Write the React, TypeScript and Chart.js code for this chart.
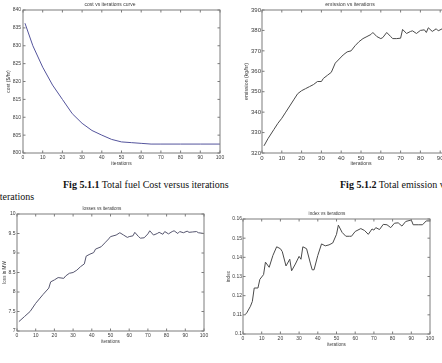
import React, { useEffect, useRef } from "react";
import { Chart, registerables } from "chart.js";

Chart.register(...registerables);

// ---------- data ----------
const costIter = [1, 5, 10, 15, 20, 25, 30, 35, 40, 45, 50, 55, 60, 65, 70, 80, 90, 100];
const costValues = [836.3, 830.0, 824.0, 819.0, 815.0, 811.0, 808.3, 806.3, 805.0, 803.8, 803.1, 802.9, 802.7, 802.5, 802.5, 802.5, 802.5, 802.5];

const emissionIter = [1, 3, 6, 8, 10, 12, 14, 16, 18, 20, 22, 24, 26, 28, 30, 31, 33, 35, 37, 39, 41, 43, 45, 47, 49, 51, 53, 55, 56, 58, 60, 61, 63, 65, 66, 68, 70, 71, 73, 75, 76, 78, 80, 82, 83, 84, 86, 88, 89, 91, 93, 95, 97, 100];
const emissionValues = [323.5, 327, 331.5, 334.5, 337, 340, 343, 346, 349, 350.5, 351.5, 352.5, 353.5, 355, 355, 356.5, 358, 359.5, 364, 366, 368, 369.5, 370, 372.5, 374.5, 376, 377, 378, 379, 377, 376, 376.5, 379, 377, 376, 376, 376.2, 380.5, 378.5, 379.5, 379.8, 378.5, 380, 380.3, 379, 381.3, 379.5, 380.8, 379.8, 380.8, 379.5, 380.2, 379.8, 380];

const lossIter = [1, 4, 7, 10, 14, 17, 18, 20, 22, 25, 26, 28, 30, 32, 34, 36, 37, 39, 41, 42, 45, 47, 49, 50, 53, 55, 57, 59, 60, 62, 63, 65, 66, 68, 70, 71, 73, 75, 76, 78, 79, 81, 83, 84, 86, 87, 89, 91, 92, 94, 96, 97, 100];
const lossValues = [7.24, 7.37, 7.5, 7.71, 7.94, 8.1, 8.26, 8.31, 8.37, 8.35, 8.41, 8.48, 8.5, 8.56, 8.65, 8.72, 8.92, 8.97, 9.01, 9.1, 9.16, 9.26, 9.36, 9.42, 9.46, 9.52, 9.46, 9.4, 9.42, 9.44, 9.53, 9.42, 9.38, 9.39, 9.49, 9.57, 9.46, 9.5, 9.53, 9.48, 9.55, 9.49, 9.55, 9.57, 9.5, 9.55, 9.52, 9.56, 9.53, 9.54, 9.55, 9.52, 9.5];

const indexIter = [1, 2, 4, 5, 6, 8, 9, 11, 12, 14, 16, 18, 20, 21, 23, 25, 26, 28, 30, 31, 32, 34, 36, 37, 38, 40, 42, 44, 46, 48, 50, 51, 53, 55, 57, 58, 60, 63, 65, 67, 69, 70, 71, 73, 75, 77, 79, 81, 83, 85, 87, 90, 91, 94, 96, 98, 100];
const indexValues = [0.110, 0.111, 0.1145, 0.117, 0.124, 0.124, 0.1285, 0.131, 0.1375, 0.1348, 0.141, 0.1455, 0.1445, 0.143, 0.1355, 0.139, 0.133, 0.1365, 0.1405, 0.139, 0.1455, 0.1445, 0.137, 0.1335, 0.1335, 0.141, 0.147, 0.146, 0.1465, 0.1475, 0.152, 0.1568, 0.153, 0.151, 0.151, 0.151, 0.1535, 0.155, 0.154, 0.152, 0.1548, 0.1542, 0.1555, 0.1545, 0.1572, 0.157, 0.1555, 0.1578, 0.158, 0.1563, 0.1587, 0.1595, 0.157, 0.157, 0.157, 0.159, 0.159];

const xTicks = { min: 0, max: 100, step: 10 };
const costTicks = { min: 800, max: 840, step: 5 };
const emissionTicks = { min: 320, max: 390, step: 10 };
const lossTicks = { min: 7, max: 10, step: 0.5 };
const indexTicks = { min: 0.1, max: 0.16, step: 0.01 };

const titles = ["cost vs iterations curve", "emission vs iterations", "losses vs iterations", "index vs iterations"];
const yTitles = ["cost ($/hr)", "emission (kg/hr)", "loss in MW", "index"];
const xTitle = "iterations";

// ---------- drawing ----------
const FONT = '"Liberation Sans", Arial, sans-serif';

const boxTicks = {
  id: "boxTicks",
  afterDatasetsDraw(chart: any) {
    const { ctx, chartArea: a, scales } = chart;
    ctx.save();
    ctx.strokeStyle = "#7c7c7c";
    ctx.lineWidth = 1;
    ctx.strokeRect(a.left, a.top, a.right - a.left, a.bottom - a.top);
    const L = 2.5;
    ctx.beginPath();
    scales.x.ticks.forEach((t: any) => {
      const px = scales.x.getPixelForValue(t.value);
      ctx.moveTo(px, a.bottom);
      ctx.lineTo(px, a.bottom - L);
      ctx.moveTo(px, a.top);
      ctx.lineTo(px, a.top + L);
    });
    scales.y.ticks.forEach((t: any) => {
      const py = scales.y.getPixelForValue(t.value);
      ctx.moveTo(a.left, py);
      ctx.lineTo(a.left + L, py);
      ctx.moveTo(a.right, py);
      ctx.lineTo(a.right - L, py);
    });
    ctx.stroke();
    ctx.restore();
  },
};

type Geo = {
  left: number; top: number; width: number; height: number;
  pl: number; pt: number; pr: number; pb: number;
  titleY: number; xTitleY: number; yTitleX: number;
  tickSize: number; titleSize: number; axisSize: number;
  xTickPad: number; yTickPad: number;
};

const geos: Geo[] = [
  { left: 0, top: 0, width: 232, height: 172, pl: 23, pt: 10, pr: 220, pb: 153, titleY: 4.5, xTitleY: 164, yTitleX: 9, tickSize: 5, titleSize: 5, axisSize: 5, xTickPad: 2, yTickPad: 2 },
  { left: 240, top: 0, width: 230, height: 172, pl: 262, pt: 10, pr: 460, pb: 153, titleY: 4.5, xTitleY: 164, yTitleX: 247, tickSize: 6, titleSize: 5.2, axisSize: 5.2, xTickPad: 2, yTickPad: 1 },
  { left: 0, top: 203, width: 232, height: 146, pl: 17, pt: 214, pr: 204, pb: 331, titleY: 209, xTitleY: 342, yTitleX: 5, tickSize: 5, titleSize: 4.6, axisSize: 4.6, xTickPad: 2, yTickPad: 1.5 },
  { left: 224, top: 208, width: 218, height: 144, pl: 243, pt: 219, pr: 430, pb: 334, titleY: 214, xTitleY: 345, yTitleX: 229, tickSize: 5, titleSize: 4.6, axisSize: 4.6, xTickPad: 2, yTickPad: 1 },
];

function makeConfig(g: Geo, xs: number[], ys: number[], yt: { min: number; max: number; step: number }, title: string, yTitle: string, color: string): any {
  const tl = g.titleSize * 1.2;
  const al = g.axisSize * 1.2;
  const titleTop = g.titleY - g.top - tl / 2;
  const txt = "#3a3a3a";
  return {
    type: "line",
    data: {
      datasets: [{
        data: xs.map((x, i) => ({ x, y: ys[i] })),
        borderColor: color,
        borderWidth: 1,
        pointRadius: 0,
        tension: 0,
        fill: false,
      }],
    },
    options: {
      animation: false,
      responsive: false,
      maintainAspectRatio: false,
      layout: { padding: { left: 0, top: 0, bottom: 0, right: g.left + g.width - g.pr } },
      plugins: {
        legend: { display: false },
        tooltip: { enabled: false },
        title: {
          display: true,
          text: title,
          color: txt,
          font: { family: FONT, size: g.titleSize, weight: "normal", lineHeight: 1.2 },
          padding: { top: titleTop, bottom: g.pt - g.top - titleTop - tl },
        },
      },
      scales: {
        x: {
          type: "linear",
          min: xTicks.min,
          max: xTicks.max,
          border: { display: false },
          grid: { display: false, drawTicks: false, tickLength: 0 },
          ticks: {
            stepSize: xTicks.step, autoSkip: false, maxRotation: 0, padding: g.xTickPad, color: txt,
            font: { family: FONT, size: g.tickSize },
            callback: (v: number) => String(Math.round(v * 100) / 100),
          },
          title: {
            display: true, text: xTitle, color: txt,
            font: { family: FONT, size: g.axisSize, lineHeight: 1.2 },
            padding: { top: 0, bottom: g.top + g.height - g.xTitleY - al / 2 },
          },
          afterFit: (s: any) => { s.height = g.top + g.height - g.pb; },
        },
        y: {
          type: "linear",
          min: yt.min,
          max: yt.max,
          border: { display: false },
          grid: { display: false, drawTicks: false, tickLength: 0 },
          ticks: {
            stepSize: yt.step, autoSkip: false, padding: g.yTickPad, color: txt,
            font: { family: FONT, size: g.tickSize },
            callback: (v: number) => String(Math.round(v * 1000) / 1000),
          },
          title: {
            display: true, text: yTitle, color: txt,
            font: { family: FONT, size: g.axisSize, lineHeight: 1.2 },
            padding: { top: g.yTitleX - g.left - al / 2, bottom: 0 },
          },
          afterFit: (s: any) => { s.width = g.pl - g.left; },
        },
      },
    },
    plugins: [boxTicks],
  };
}

export default function App() {
  const r0 = useRef<HTMLCanvasElement>(null);
  const r1 = useRef<HTMLCanvasElement>(null);
  const r2 = useRef<HTMLCanvasElement>(null);
  const r3 = useRef<HTMLCanvasElement>(null);
  const refs = [r0, r1, r2, r3];

  useEffect(() => {
    const charts = [
      new Chart(r0.current!, makeConfig(geos[0], costIter, costValues, costTicks, titles[0], yTitles[0], "#54549c")),
      new Chart(r1.current!, makeConfig(geos[1], emissionIter, emissionValues, emissionTicks, titles[1], yTitles[1], "#4a4a4a")),
      new Chart(r2.current!, makeConfig(geos[2], lossIter, lossValues, lossTicks, titles[2], yTitles[2], "#55556e")),
      new Chart(r3.current!, makeConfig(geos[3], indexIter, indexValues, indexTicks, titles[3], yTitles[3], "#4a4a4a")),
    ];
    return () => charts.forEach((c) => c.destroy());
  }, []);

  const serif = '"Liberation Serif", "Times New Roman", serif';

  return (
    <div style={{ position: "absolute", left: 0, top: 0, width: 442, height: 363, overflow: "hidden", background: "#fff" }}>
      {geos.map((g, i) => (
        <canvas
          key={i}
          ref={refs[i]}
          width={g.width}
          height={g.height}
          style={{ position: "absolute", left: g.left, top: g.top, width: g.width, height: g.height }}
        />
      ))}
      <div style={{ position: "absolute", left: 63, top: 179, font: `10px ${serif}`, lineHeight: "12px", whiteSpace: "nowrap", color: "#111" }}>
        <b>Fig 5.1.1</b> Total fuel Cost versus iterations
      </div>
      <div style={{ position: "absolute", left: 340, top: 179, font: `10px ${serif}`, lineHeight: "12px", whiteSpace: "nowrap", color: "#111" }}>
        <b>Fig 5.1.2</b> Total emission versus iterations
      </div>
      <div style={{ position: "absolute", left: -3, top: 191, font: `10px ${serif}`, lineHeight: "12px", whiteSpace: "nowrap", color: "#111" }}>
        iterations
      </div>
    </div>
  );
}
